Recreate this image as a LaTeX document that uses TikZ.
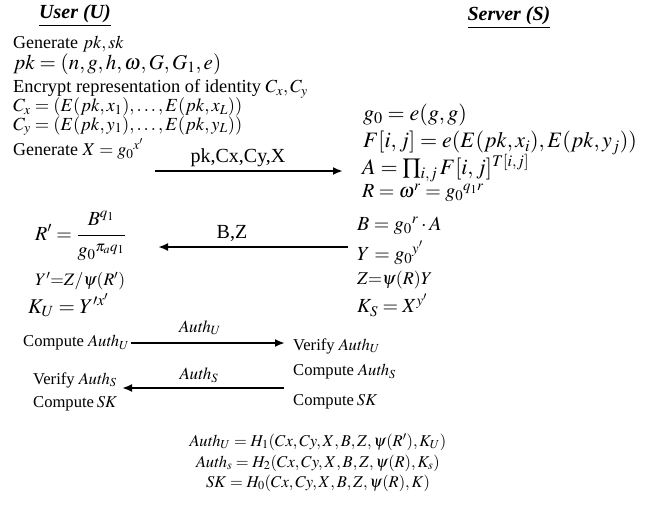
\documentclass[tikz,border=0pt]{standalone}
\usepackage{amsmath}
\usepackage{mathptmx}
\usepackage{fontspec}
\setmainfont{Liberation Serif}
\usetikzlibrary{arrows.meta, positioning}

\begin{document}
\begin{tikzpicture}[x=1pt, y=-1pt,
  head/.style={inner sep=0pt, font=\fontsize{20}{24}\selectfont\bfseries\itshape},
  txt/.style={anchor=west, inner sep=0pt, font=\fontsize{18}{21}\selectfont},
  eq/.style={anchor=west, inner sep=0pt, font=\fontsize{20}{24}\selectfont},
  eqb/.style={anchor=west, inner sep=0pt, font=\fontsize{22}{26}\selectfont},
  eqs/.style={anchor=west, inner sep=0pt, font=\fontsize{18}{21}\selectfont},
  action/.style={anchor=west, inner sep=0pt, font=\fontsize{16.6}{20}\selectfont},
  lbl/.style={inner sep=0pt, font=\fontsize{17}{20}\selectfont},
  msglbl/.style={inner sep=0pt, font=\fontsize{20}{24}\selectfont},
  fin/.style={inner sep=0pt, font=\fontsize{16.5}{20}\selectfont},
  msg/.style={-{Latex[length=10pt, width=8pt]}, line width=2.8pt}
]
\useasboundingbox (0,0) rectangle (652,513);

% ============ HEADERS ============
\node[head] (user) at (75,16) {\underline{User (U)}};
\node[head] (server) at (509,18) {\underline{Server (S)}};

% ============ USER: setup ============
\node[txt] (gen) at (13,44) {Generate $pk,sk$};
\node[eq, font=\fontsize{21}{24}\selectfont] (pk) at (13,64) {$pk=(n,g,h,\omega,G,G_1,e)$};
\node[txt, font=\fontsize{18.4}{22}\selectfont] (enc) at (13,89) {Encrypt representation of identity $C_x,C_y$};
\node[eqs, font=\fontsize{18.5}{22}\selectfont] (cx) at (13,107) {$C_x=(E(pk,x_1),\dots,E(pk,x_L))$};
\node[eqs, font=\fontsize{18.5}{22}\selectfont] (cy) at (13,126) {$C_y=(E(pk,y_1),\dots,E(pk,y_L))$};
\node[txt] (genx) at (13,149) {Generate $X=g_0{}^{x'}$};

% ============ SERVER: response ============
\node[eqb] (g0) at (363,115) {$g_0=e(g,g)$};
\node[eqb] (F) at (363,143) {$F[i,j]=e(E(pk,x_i),E(pk,y_j))$};
\node[eqb] (A) at (362,168) {$A=\textstyle\prod_{i,j}F[i,j]^{T[i,j]}$};
\node[eq] (R) at (362,193) {$R=\omega^r=g_0{}^{q_1 r}$};
\node[eq] (B) at (357,226) {$B=g_0{}^{r}\cdot A$};
\node[eq] (Y) at (357,253) {$Y=g_0{}^{y'}$};
\node[eqs] (Z) at (357,280) {$Z{=}\psi(R)Y$};
\node[eq] (KS) at (357,305) {$K_S=X^{y'}$};

% ============ USER: key ============
\node[eq, anchor=base west] (Rp) at (35,240)
  {$R'=\dfrac{B^{q_1}\rule[-7pt]{0pt}{7pt}}{\rule{0pt}{19pt}g_0{}^{\pi_a q_1}}$};
\node[eqs, font=\fontsize{17.5}{21}\selectfont] (Yp) at (35,281) {$Y'{=}Z/\psi(R')$};
\node[eq, font=\fontsize{21}{24}\selectfont] (KU) at (28,305) {$K_U=Y'^{x'}$};

% ============ confirmation ============
\node[action] (cau) at (23,343) {Compute $\mathit{Auth}_U$};
\node[action] (vau) at (293,346) {Verify $\mathit{Auth}_U$};
\node[action] (cas) at (293,372) {Compute $\mathit{Auth}_S$};
\node[action] (csks) at (293,402) {Compute\,$SK$};
\node[action] (vas) at (33,380) {Verify $\mathit{Auth}_S$};
\node[action] (csku) at (33,404) {Compute\,$SK$};

% messages
\coordinate (m1s) at (155,171);
\coordinate (m1e) at (343,171);
\draw[msg] (m1s) -- (m1e);
\node[msglbl] (l1) at (238,158) {pk,Cx,Cy,X};

\coordinate (m2s) at (348,247);
\coordinate (m2e) at (158,247);
\draw[msg] (m2s) -- (m2e);
\node[msglbl] (l2) at (232,233) {B,Z};

\draw[msg, shorten <=2pt, shorten >=8pt] (cau.east) -- (cau.east -| vau.west);
\node[lbl] (l3) at (200,328) {$\mathit{Auth}_U$};

\coordinate (m4s) at (284,388);
\coordinate (m4e) at (122,388);
\draw[msg] (m4s) -- (m4e);
\node[lbl] (l4) at (199,375) {$\mathit{Auth}_S$};

% ============ definitions ============
\node[fin] (h1) at (318,442) {$\mathit{Auth}_U=H_1(Cx,Cy,X,B,Z,\psi(R'),K_U)$};
\node[fin] (h2) at (318,463) {$\mathit{Auth}_s=H_2(Cx,Cy,X,B,Z,\psi(R),K_s)$};
\node[fin] (h3) at (318,483) {$SK=H_0(Cx,Cy,X,B,Z,\psi(R),K)$};

\end{tikzpicture}
\end{document}
